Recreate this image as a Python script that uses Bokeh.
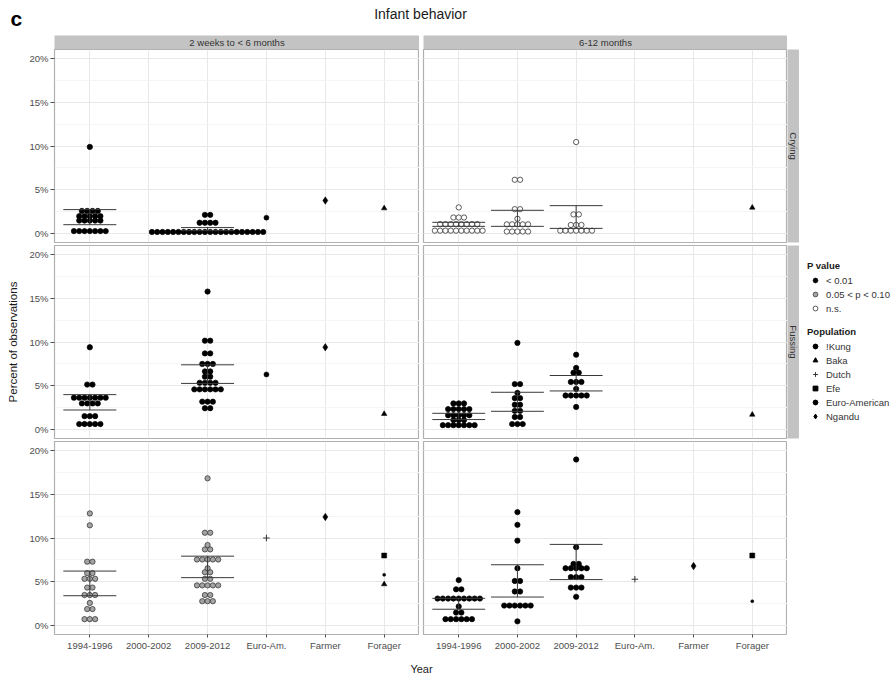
import numpy as np
from bokeh.plotting import figure
from bokeh.layouts import row, column
from bokeh.models import (Range1d, FixedTicker, PrintfTickFormatter, Spacer,
                          Legend, LegendItem)
from bokeh.core.properties import value
from bokeh.embed import file_html
from bokeh.resources import INLINE

FONT = "Liberation Sans"

# ---------------- data ----------------
categories = ["1994-1996", "2000-2002", "2009-2012", "Euro-Am.", "Farmer", "Forager"]
age_groups = ["2 weeks to < 6 months", "6-12 months"]
behaviors = ["Crying", "Fussing", "Fuss/cry"]
y_ticks = [0, 5, 10, 15, 20]
y_minor = [2.5, 7.5, 12.5, 17.5]
p_levels = ["< 0.01", "0.05 < p < 0.10", "n.s."]
populations = ["!Kung", "Baka", "Dutch", "Efe", "Euro-American", "Ngandu"]

# individual infants (percent of observations), one value per dot
cry_young_1994 = [9.9, 2.6, 2.6, 2.6, 2.6, 2.0, 2.0, 2.0, 2.0, 2.0, 1.5, 1.5, 1.5, 1.5, 1.5,
                  0.3, 0.3, 0.3, 0.3, 0.3, 0.3, 0.3]
cry_young_2009 = [2.15, 2.15, 1.25, 1.25, 1.25, 1.25,
                  0.2, 0.2, 0.2, 0.2, 0.2, 0.2, 0.2, 0.2, 0.2, 0.2, 0.2,
                  0.2, 0.2, 0.2, 0.2, 0.2, 0.2, 0.2, 0.2, 0.2, 0.2, 0.2]
cry_old_1994 = [3.0, 1.85, 1.85, 1.85, 1.1, 1.1, 1.1, 1.1, 1.1, 1.1, 1.1, 1.1,
                0.35, 0.35, 0.35, 0.35, 0.35, 0.35, 0.35, 0.35, 0.35, 0.35]
cry_old_2000 = [6.15, 6.15, 2.8, 2.8, 1.7, 1.07, 1.07, 1.07, 1.07, 1.07,
                0.25, 0.25, 0.25, 0.25, 0.25]
cry_old_2009 = [10.45, 2.2, 2.2, 1.0, 1.0, 1.0, 0.35, 0.35, 0.35, 0.35, 0.35, 0.35, 0.35]

fus_young_1994 = [9.4, 5.15, 5.15, 3.65, 3.65, 3.65, 3.65, 3.65, 3.65, 3.65,
                  3.0, 3.0, 3.0, 3.0, 1.55, 1.55, 1.55, 0.65, 0.65, 0.65, 0.65, 0.65]
fus_young_2009 = [15.75, 10.15, 10.15, 8.7, 8.7, 7.5, 7.5, 7.5, 6.65, 6.65, 6.05, 6.05,
                  5.35, 5.35, 5.35, 5.35, 4.6, 4.6, 4.6, 4.6, 4.6, 4.6,
                  3.2, 3.2, 3.2, 2.45, 2.45]
fus_old_1994 = [3.0, 3.0, 3.0, 2.35, 2.35, 2.35, 2.35, 2.35, 1.65, 1.65, 1.65, 1.65, 1.65,
                1.1, 1.1, 1.1, 0.52, 0.52, 0.52, 0.52, 0.52, 0.52, 0.52]
fus_old_2000 = [9.9, 5.2, 5.2, 4.2, 3.6, 3.6, 2.85, 2.85, 2.15, 2.15, 1.45, 1.45,
                0.65, 0.65, 0.65]
fus_old_2009 = [8.55, 7.05, 6.5, 6.5, 5.45, 5.45, 5.45, 4.65, 3.9, 3.9, 3.9, 3.9, 3.9, 2.6]

fc_young_1994 = [12.8, 11.45, 7.3, 7.3, 6.0, 6.0, 5.35, 5.35, 5.35, 4.35, 4.35,
                 3.5, 3.5, 3.5, 2.6, 1.9, 1.9, 0.75, 0.75, 0.75]
fc_young_2009 = [16.8, 10.6, 10.6, 9.2, 8.7, 8.7, 7.55, 7.55, 7.55, 7.55, 7.55, 6.55,
                 6.1, 6.1, 5.35, 5.35, 4.6, 4.6, 4.6, 4.6, 4.6, 3.5, 3.5, 2.8, 2.8, 2.8]
fc_old_1994 = [5.2, 4.15, 4.15, 3.1, 3.1, 3.1, 3.1, 3.1, 3.1, 3.1, 3.1, 3.1, 2.2,
               1.5, 1.5, 0.75, 0.75, 0.75, 0.75, 0.75, 0.75]
fc_old_2000 = [12.95, 11.5, 9.7, 6.55, 5.1, 5.1, 3.9, 3.9, 2.3, 2.3, 2.3, 2.3, 2.3, 2.3, 0.5]
fc_old_2009 = [18.95, 8.95, 7.05, 7.05, 6.55, 6.55, 6.55, 6.55, 6.55, 5.55, 5.55, 5.55,
               4.35, 4.35, 4.35, 3.3]

dot_groups = [
    ("Crying", 0, "1994-1996", cry_young_1994),
    ("Crying", 0, "2009-2012", cry_young_2009),
    ("Crying", 1, "1994-1996", cry_old_1994),
    ("Crying", 1, "2000-2002", cry_old_2000),
    ("Crying", 1, "2009-2012", cry_old_2009),
    ("Fussing", 0, "1994-1996", fus_young_1994),
    ("Fussing", 0, "2009-2012", fus_young_2009),
    ("Fussing", 1, "1994-1996", fus_old_1994),
    ("Fussing", 1, "2000-2002", fus_old_2000),
    ("Fussing", 1, "2009-2012", fus_old_2009),
    ("Fuss/cry", 0, "1994-1996", fc_young_1994),
    ("Fuss/cry", 0, "2009-2012", fc_young_2009),
    ("Fuss/cry", 1, "1994-1996", fc_old_1994),
    ("Fuss/cry", 1, "2000-2002", fc_old_2000),
    ("Fuss/cry", 1, "2009-2012", fc_old_2009),
]

# P value of each panel
panel_pvalue = {
    ("Crying", 0): "< 0.01", ("Crying", 1): "n.s.",
    ("Fussing", 0): "< 0.01", ("Fussing", 1): "< 0.01",
    ("Fuss/cry", 0): "0.05 < p < 0.10", ("Fuss/cry", 1): "< 0.01",
}

# error bars (lower, upper)
eb_behavior = ["Crying", "Crying", "Crying", "Crying", "Crying",
               "Fussing", "Fussing", "Fussing", "Fussing", "Fussing",
               "Fuss/cry", "Fuss/cry", "Fuss/cry", "Fuss/cry", "Fuss/cry"]
eb_age = [0, 0, 1, 1, 1, 0, 0, 1, 1, 1, 0, 0, 1, 1, 1]
eb_category = ["1994-1996", "2009-2012", "1994-1996", "2000-2002", "2009-2012",
               "1994-1996", "2009-2012", "1994-1996", "2000-2002", "2009-2012",
               "1994-1996", "2009-2012", "1994-1996", "2000-2002", "2009-2012"]
eb_lower = [1.03, 0.35, 0.84, 0.84, 0.61, 2.25, 5.28, 1.16, 2.1, 4.42, 3.42, 5.48, 1.88, 3.27, 5.26]
eb_upper = [2.75, 0.7, 1.3, 2.67, 3.2, 4.0, 7.4, 1.87, 4.27, 6.18, 6.23, 7.93, 3.12, 6.95, 9.27]

# comparison populations
pop_behavior = ["Crying", "Crying", "Crying", "Crying",
                "Fussing", "Fussing", "Fussing", "Fussing",
                "Fuss/cry", "Fuss/cry", "Fuss/cry", "Fuss/cry", "Fuss/cry",
                "Fuss/cry", "Fuss/cry", "Fuss/cry", "Fuss/cry"]
pop_age = [0, 0, 0, 1, 0, 0, 0, 1, 0, 0, 0, 0, 0, 1, 1, 1, 1]
pop_category = ["Euro-Am.", "Farmer", "Forager", "Forager",
                "Euro-Am.", "Farmer", "Forager", "Forager",
                "Euro-Am.", "Farmer", "Forager", "Forager", "Forager",
                "Euro-Am.", "Farmer", "Forager", "Forager"]
pop_name = ["Euro-American", "Ngandu", "Baka", "Baka",
            "Euro-American", "Ngandu", "Baka", "Baka",
            "Dutch", "Ngandu", "Efe", "!Kung", "Baka",
            "Dutch", "Ngandu", "Efe", "!Kung"]
pop_value = [1.83, 3.78, 2.9, 2.98,
             6.3, 9.4, 1.8, 1.72,
             10.0, 12.4, 8.0, 5.8, 4.73,
             5.3, 6.8, 8.0, 2.8]

# ---------------- styles ----------------
p_style = {
    "< 0.01": dict(fill_color="black", line_color="black"),
    "0.05 < p < 0.10": dict(fill_color="#a3a3a3", line_color="#2a2a2a"),
    "n.s.": dict(fill_color="white", line_color="#1a1a1a"),
}
pop_style = {
    "!Kung": dict(marker="circle", size=3),
    "Baka": dict(marker="triangle", size=5.5),
    "Dutch": dict(marker="cross", size=6.5),
    "Efe": dict(marker="square", size=5),
    "Euro-American": dict(marker="circle", size=5),
    "Ngandu": dict(marker="diamond", size=7.5),
}

FW = {0: 365, 1: 364}
FH = 193
DOT_PX = 5.3
XR = (0.4, 6.6)
TOTAL_W = 894
TICK_FS = "9.5px"


def style_axis(ax):
    ax.major_label_text_font = FONT
    ax.major_label_text_font_size = TICK_FS
    ax.major_label_text_color = "#4d4d4d"
    ax.major_tick_line_color = "#4d4d4d"
    ax.major_tick_in = 0
    ax.minor_tick_line_color = None
    ax.axis_line_color = None


def make_panel(bi, ai):
    b = behaviors[bi]
    last = bi == 2
    p = figure(frame_width=FW[ai], frame_height=FH,
               x_range=Range1d(*XR), y_range=Range1d(-1, 21),
               x_axis_location="below" if last else None,
               y_axis_location="left" if ai == 0 else None,
               output_backend="svg", toolbar_location=None,
               min_border_left=32 if ai == 0 else 4, min_border_right=0,
               min_border_top=0, min_border_bottom=17 if last else 3,
               background_fill_color="white", border_fill_color="white")
    p.outline_line_color = "#b0b0b0"
    p.outline_line_width = 1.2
    p.xgrid.ticker = FixedTicker(ticks=list(range(1, len(categories) + 1)))
    p.ygrid.ticker = FixedTicker(ticks=y_ticks, minor_ticks=y_minor)
    p.xgrid.grid_line_color = "#e8e8e8"
    p.ygrid.grid_line_color = "#e8e8e8"
    p.ygrid.minor_grid_line_color = "#f4f4f4"

    if ai == 0:
        ax = p.yaxis[0]
        ax.ticker = FixedTicker(ticks=y_ticks, minor_ticks=[])
        ax.formatter = PrintfTickFormatter(format="%d%%")
        style_axis(ax)
        ax.major_tick_out = 4
        ax.major_label_standoff = 2
    if last:
        ax = p.xaxis[0]
        ax.ticker = FixedTicker(ticks=list(range(1, len(categories) + 1)), minor_ticks=[])
        ax.major_label_overrides = {i + 1: c for i, c in enumerate(categories)}
        style_axis(ax)
        ax.major_tick_out = 3
        ax.major_label_standoff = 2

    # dot stacks
    dx = DOT_PX * (XR[1] - XR[0]) / FW[ai]
    xs, ys = [], []
    for (gb, ga, cat, vals) in dot_groups:
        if gb != b or ga != ai:
            continue
        c = categories.index(cat) + 1
        for v in sorted(set(vals)):
            n = vals.count(v)
            for k in range(n):
                xs.append(c + (k - (n - 1) / 2) * dx)
                ys.append(v)
    st = p_style[panel_pvalue[(b, ai)]]
    p.scatter(xs, ys, size=DOT_PX, line_width=0.7, **st)

    # error bars
    hx0, hx1, hy, vx, vy0, vy1 = [], [], [], [], [], []
    for eb, ea, ec, lo, hi in zip(eb_behavior, eb_age, eb_category, eb_lower, eb_upper):
        if eb != b or ea != ai:
            continue
        c = categories.index(ec) + 1
        for yv in (lo, hi):
            hx0.append(c - 0.45)
            hx1.append(c + 0.45)
            hy.append(yv)
        vx.append(c)
        vy0.append(lo)
        vy1.append(hi)
    p.segment(hx0, hy, hx1, hy, line_color="#3a3a3a", line_width=1)
    p.segment(vx, vy0, vx, vy1, line_color="#3a3a3a", line_width=1)

    # population points
    for name in populations:
        px, py = [], []
        for pb, pa, pc, pn, pv in zip(pop_behavior, pop_age, pop_category, pop_name, pop_value):
            if pb == b and pa == ai and pn == name:
                px.append(categories.index(pc) + 1)
                py.append(pv)
        if px:
            sty = pop_style[name]
            if sty["marker"] == "cross":
                p.scatter(px, py, marker="cross", size=sty["size"], line_color="#333", line_width=1)
            else:
                p.scatter(px, py, marker=sty["marker"], size=sty["size"],
                          fill_color="black", line_color="black", line_width=0.5)
    return p


def blank(w, h, bg="white", **kw):
    f = figure(frame_width=w, frame_height=h, x_range=Range1d(0, w), y_range=Range1d(0, h),
               x_axis_location=None, y_axis_location=None, min_border=0,
               toolbar_location=None, output_backend="svg",
               background_fill_color=bg, border_fill_color="white", **kw)
    f.outline_line_color = None
    f.xgrid.grid_line_color = None
    f.ygrid.grid_line_color = None
    return f


STRIP_BG = "#c3c3c3"

# header (page y 0..35)
header = blank(TOTAL_W, 35)
header.text(x=[10], y=[17.5], text=["c"], text_font=value(FONT), text_font_size="21px",
            text_font_style="bold", text_color="black", text_baseline="middle")
header.text(x=[420], y=[22], text=["Infant behavior"], text_font=value(FONT),
            text_font_size="14px", text_color="#1a1a1a", text_align="center",
            text_baseline="middle")

# top strips
strips_top = []
for ai in range(2):
    s = blank(FW[ai], 14, bg=STRIP_BG)
    s.text(x=[FW[ai] / 2], y=[7], text=[age_groups[ai]], text_font=value(FONT),
           text_font_size="9.5px", text_color="#333333", text_align="center",
           text_baseline="middle")
    strips_top.append(s)

# right strips
strips_right = []
for bi in range(3):
    s = figure(frame_width=12, frame_height=FH, x_range=Range1d(0, 12), y_range=Range1d(0, FH),
               x_axis_location=None, y_axis_location=None, min_border=0, min_border_bottom=3,
               toolbar_location=None, output_backend="svg",
               background_fill_color=STRIP_BG, border_fill_color="white")
    s.outline_line_color = None
    s.xgrid.grid_line_color = None
    s.ygrid.grid_line_color = None
    s.text(x=[6], y=[FH / 2], text=[behaviors[bi]], text_font=value(FONT),
           text_font_size="9.5px", text_color="#333333", text_align="center",
           text_baseline="middle", angle=-np.pi / 2)
    strips_right.append(s)

GRID_H = 602

# y label
ylab = blank(14, GRID_H)
ylab.text(x=[4.5], y=[GRID_H - 292.5], text=["Percent of observations"], text_font=value(FONT),
          text_font_size="11.5px", text_color="#1a1a1a", text_align="center",
          text_baseline="middle", angle=np.pi / 2)

# footer (page y 651..675)
footer = blank(TOTAL_W, 24)
footer.text(x=[421], y=[8.5], text=["Year"], text_font=value(FONT), text_font_size="11px",
            text_color="#1a1a1a", text_align="center", text_baseline="middle")


# legends
def legend_fig(h, title, labels, renderer_fn):
    f = blank(87, h)
    items = []
    for lab in labels:
        r = renderer_fn(f, lab)
        items.append(LegendItem(label=lab, renderers=[r]))
    lg = Legend(items=items, title=title, location="top_left", orientation="vertical",
                padding=0, margin=0, spacing=2, glyph_width=16, glyph_height=12,
                label_height=12, label_standoff=3, label_text_font=FONT,
                label_text_font_size="9.5px", label_text_color="#333333",
                title_text_font=FONT, title_text_font_size="9.5px",
                title_text_font_style="bold", title_text_color="#1a1a1a",
                title_standoff=3, border_line_color=None, background_fill_alpha=0)
    f.add_layout(lg)
    return f


# legend keys need one (off-screen) point so that their glyph is drawn
KEY_X = [-50]
KEY_Y = [-50]


def p_renderer(f, lab):
    return f.scatter(x=KEY_X, y=KEY_Y, size=DOT_PX, line_width=0.7, **p_style[lab])


def pop_renderer(f, lab):
    sty = pop_style[lab]
    if sty["marker"] == "cross":
        return f.scatter(x=KEY_X, y=KEY_Y, marker="cross", size=sty["size"],
                         line_color="#333", line_width=1)
    return f.scatter(x=KEY_X, y=KEY_Y, marker=sty["marker"], size=sty["size"],
                     fill_color="black", line_color="black")


legA = legend_fig(66, "P value", p_levels, p_renderer)
legB = legend_fig(110, "Population", populations, pop_renderer)
legend_col = row(Spacer(width=8, height=GRID_H),
                 column(Spacer(width=87, height=211), legA, legB))

panels = {(bi, ai): make_panel(bi, ai) for bi in range(3) for ai in range(2)}

grid = column(
    row(panels[(0, 0)], panels[(0, 1)], strips_right[0]),
    row(panels[(1, 0)], panels[(1, 1)], strips_right[1]),
    row(panels[(2, 0)], panels[(2, 1)], Spacer(width=12, height=210)),
)

layout = column(
    header,
    row(Spacer(width=54, height=14), strips_top[0], Spacer(width=4, height=14), strips_top[1]),
    row(Spacer(width=8, height=GRID_H), ylab, grid, legend_col),
    footer,
)

open("out.html", "w").write(file_html(layout, INLINE))
